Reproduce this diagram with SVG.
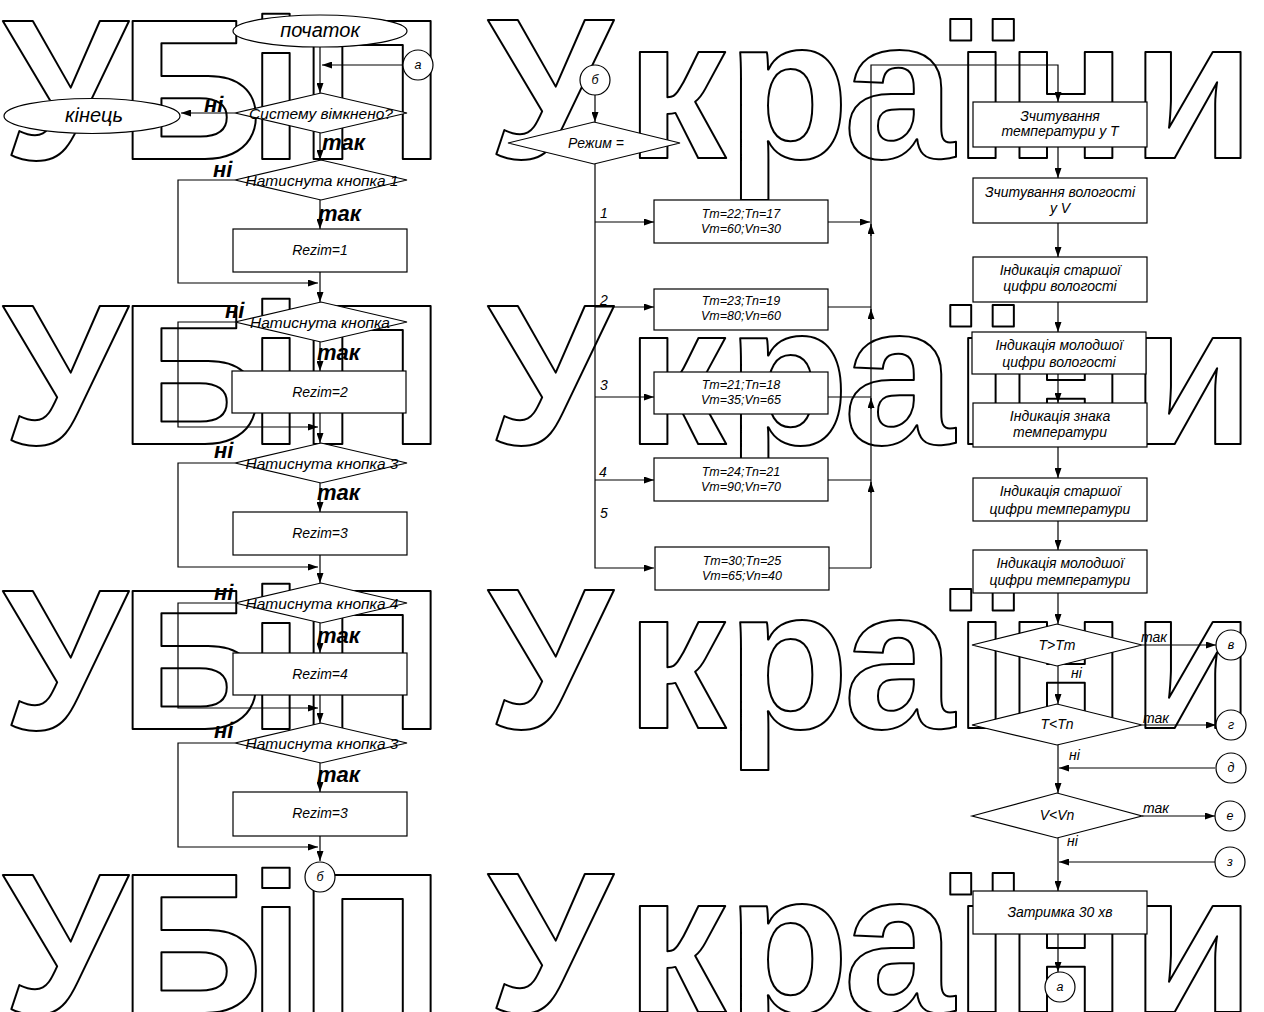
<svg xmlns="http://www.w3.org/2000/svg" width="1264" height="1012" viewBox="0 0 1264 1012">
<style>
.wm{font-family:"Liberation Sans",Arial,sans-serif;font-weight:bold;font-size:200px;fill:none;stroke:#000;stroke-width:2;stroke-linejoin:round;text-anchor:middle}
.nd{fill:#fff;stroke:#000;stroke-width:1.2}
.ln{fill:none;stroke:#000;stroke-width:1.2}
.ar{marker-end:url(#ah)}
.t{font-family:"Liberation Sans",Arial,sans-serif;font-style:italic;font-size:14px;text-anchor:middle;fill:#000}
.ts{font-family:"Liberation Sans",Arial,sans-serif;font-style:italic;font-size:12.5px;text-anchor:middle;fill:#000}
.td{font-family:"Liberation Sans",Arial,sans-serif;font-style:italic;font-size:15.5px;text-anchor:middle;fill:#000}
.tb{font-family:"Liberation Sans",Arial,sans-serif;font-style:italic;font-size:20px;text-anchor:middle;fill:#000}
.lb{font-family:"Liberation Sans",Arial,sans-serif;font-style:italic;font-weight:bold;font-size:22px;fill:#000}
.lr{font-family:"Liberation Sans",Arial,sans-serif;font-style:italic;font-size:14px;fill:#000}
</style>
<defs>
<marker id="ah" viewBox="0 0 10 7" refX="10" refY="3.5" markerWidth="10" markerHeight="7" markerUnits="userSpaceOnUse" orient="auto"><path d="M0,0 L10,3.5 L0,7 z" fill="#000"/></marker>
</defs>
<rect width="1264" height="1012" fill="#fff"/>

<g id="watermark">
<text class="wm" x="65 191 276 372" y="159">УБіП</text>
<text class="wm" x="550 676 788 899 982 1066 1193" y="158">України</text>
<text class="wm" x="65 191 276 372" y="444">УБіП</text>
<text class="wm" x="550 676 788 899 982 1066 1193" y="444">України</text>
<text class="wm" x="65 191 276 372" y="729">УБіП</text>
<text class="wm" x="550 676 788 899 982 1066 1193" y="728">України</text>
<text class="wm" x="65 191 276 372" y="1013">УБіП</text>
<text class="wm" x="550 676 788 899 982 1066 1193" y="1012">України</text>
</g>

<g id="connectors">
<path class="ln ar" d="M320,47 V93"/>
<path class="ln ar" d="M403,65 H322"/>
<path class="ln ar" d="M235,113 H181"/>
<path class="ln ar" d="M320,133 V160"/>
<path class="ln ar" d="M320,200 V229"/>
<path class="ln ar" d="M320,272 V302"/>
<path class="ln ar" d="M235,180 H178 V283 H318"/>
<path class="ln ar" d="M320,342 V371"/>
<path class="ln ar" d="M320,413 V443"/>
<path class="ln ar" d="M235,322 H178 V427 H318"/>
<path class="ln ar" d="M320,483 V512"/>
<path class="ln ar" d="M320,555 V583"/>
<path class="ln ar" d="M235,463 H178 V567 H318"/>
<path class="ln ar" d="M320,623 V653"/>
<path class="ln ar" d="M320,695 V723"/>
<path class="ln ar" d="M235,603 H178 V708 H318"/>
<path class="ln ar" d="M320,763 V792"/>
<path class="ln ar" d="M320,836 V861"/>
<path class="ln ar" d="M235,743 H178 V847 H318"/>

<path class="ln ar" d="M595,95 V122"/>
<path class="ln ar" d="M595,164 V568 H654"/>
<path class="ln ar" d="M595,222 H654"/>
<path class="ln ar" d="M595,307 H654"/>
<path class="ln ar" d="M595,397 H654"/>
<path class="ln ar" d="M595,480 H654"/>
<path class="ln ar" d="M828,222 H870"/>
<path class="ln" d="M828,307 H871"/>
<path class="ln" d="M828,397 H871"/>
<path class="ln" d="M828,480 H871"/>
<path class="ln" d="M829,568 H871"/>
<path class="ln ar" d="M871,568 V65 H1058 V102"/>
<path class="ln ar" d="M871,236 V224"/>
<path class="ln ar" d="M871,320 V309"/>
<path class="ln ar" d="M871,409 V398"/>
<path class="ln ar" d="M871,493 V482"/>

<path class="ln ar" d="M1058,147 V178"/>
<path class="ln ar" d="M1058,223 V257"/>
<path class="ln ar" d="M1058,302 V332"/>
<path class="ln ar" d="M1058,374 V403"/>
<path class="ln ar" d="M1058,447 V478"/>
<path class="ln ar" d="M1058,521 V550"/>
<path class="ln ar" d="M1058,593 V624"/>
<path class="ln ar" d="M1058,666 V704"/>
<path class="ln ar" d="M1058,745 V793"/>
<path class="ln ar" d="M1058,838 V891"/>
<path class="ln ar" d="M1058,934 V972"/>
<path class="ln ar" d="M1142,645 H1216"/>
<path class="ln ar" d="M1142,725 H1216"/>
<path class="ln ar" d="M1142,816 H1215"/>
<path class="ln ar" d="M1215,768 H1059"/>
<path class="ln ar" d="M1215,862 H1059"/>
</g>

<g id="labels">
<text class="lb" x="204" y="112">ні</text>
<text class="lb" x="322" y="150">так</text>
<text class="lb" x="213" y="177">ні</text>
<text class="lb" x="318" y="221">так</text>
<text class="lb" x="225" y="318">ні</text>
<text class="lb" x="317" y="360">так</text>
<text class="lb" x="214" y="458">ні</text>
<text class="lb" x="317" y="500">так</text>
<text class="lb" x="214" y="600">ні</text>
<text class="lb" x="317" y="643">так</text>
<text class="lb" x="214" y="738">ні</text>
<text class="lb" x="317" y="782">так</text>
<text class="lr" x="600" y="218">1</text>
<text class="lr" x="600" y="305">2</text>
<text class="lr" x="600" y="390">3</text>
<text class="lr" x="599" y="477">4</text>
<text class="lr" x="600" y="518">5</text>
<text class="lr" x="1141" y="642">так</text>
<text class="lr" x="1071" y="678">ні</text>
<text class="lr" x="1143" y="723">так</text>
<text class="lr" x="1069" y="760">ні</text>
<text class="lr" x="1143" y="813">так</text>
<text class="lr" x="1067" y="846">ні</text>
</g>

<g id="n-start"><ellipse class="nd" cx="320" cy="31" rx="87" ry="16"/><text class="tb" x="320" y="37">початок</text></g>
<g id="n-a1"><circle class="nd" cx="418" cy="65" r="15"/><text class="ts" x="418" y="69">а</text></g>
<g id="n-end"><ellipse class="nd" cx="92" cy="116" rx="88" ry="17.5"/><text class="tb" x="94" y="122">кінець</text></g>
<g id="n-d0"><polygon class="nd" points="235,113 321,93 407,113 321,133"/><text class="td" x="321" y="119">Систему вімкнено?</text></g>
<g id="n-d1"><polygon class="nd" points="235,180 321,160 407,180 321,200"/><text class="td" x="322" y="186">Натиснута кнопка 1</text></g>
<g id="n-r1"><rect class="nd" x="233" y="229" width="174" height="43"/><text class="t" x="320" y="255">Rezim=1</text></g>
<g id="n-d2"><polygon class="nd" points="235,322 321,302 407,322 321,342"/><text class="td" x="320" y="328">Натиснута кнопка</text></g>
<g id="n-r2"><rect class="nd" x="232" y="371" width="174" height="42"/><text class="t" x="320" y="397">Rezim=2</text></g>
<g id="n-d3"><polygon class="nd" points="235,463 321,443 407,463 321,483"/><text class="td" x="322" y="469">Натиснута кнопка 3</text></g>
<g id="n-r3"><rect class="nd" x="233" y="512" width="174" height="43"/><text class="t" x="320" y="538">Rezim=3</text></g>
<g id="n-d4"><polygon class="nd" points="235,603 321,583 407,603 321,623"/><text class="td" x="322" y="609">Натиснута кнопка 4</text></g>
<g id="n-r4"><rect class="nd" x="233" y="653" width="174" height="42"/><text class="t" x="320" y="679">Rezim=4</text></g>
<g id="n-d5"><polygon class="nd" points="235,743 321,723 407,743 321,763"/><text class="td" x="322" y="749">Натиснута кнопка 3</text></g>
<g id="n-r5"><rect class="nd" x="233" y="792" width="174" height="44"/><text class="t" x="320" y="818">Rezim=3</text></g>
<g id="n-b1"><circle class="nd" cx="320" cy="877" r="15"/><text class="ts" x="320" y="881">б</text></g>

<g id="n-b2"><circle class="nd" cx="595" cy="80" r="15"/><text class="ts" x="595" y="84">б</text></g>
<g id="n-mode"><polygon class="nd" points="508,143 594,122 680,143 594,164"/><text class="t" x="596" y="148">Режим =</text></g>
<g id="n-m1"><rect class="nd" x="654" y="200" width="174" height="43"/><text class="ts" x="741" y="218">Tm=22;Tn=17</text><text class="ts" x="741" y="233">Vm=60;Vn=30</text></g>
<g id="n-m2"><rect class="nd" x="654" y="289" width="174" height="41"/><text class="ts" x="741" y="305">Tm=23;Tn=19</text><text class="ts" x="741" y="320">Vm=80;Vn=60</text></g>
<g id="n-m3"><rect class="nd" x="654" y="372" width="174" height="42"/><text class="ts" x="741" y="389">Tm=21;Tn=18</text><text class="ts" x="741" y="404">Vm=35;Vn=65</text></g>
<g id="n-m4"><rect class="nd" x="654" y="458" width="174" height="43"/><text class="ts" x="741" y="476">Tm=24;Tn=21</text><text class="ts" x="741" y="491">Vm=90;Vn=70</text></g>
<g id="n-m5"><rect class="nd" x="655" y="547" width="174" height="43"/><text class="ts" x="742" y="565">Tm=30;Tn=25</text><text class="ts" x="742" y="580">Vm=65;Vn=40</text></g>

<g id="n-s1"><rect class="nd" x="973" y="102" width="174" height="45"/><text class="t" x="1060" y="121">Зчитування</text><text class="t" x="1060" y="136">температури у Т</text></g>
<g id="n-s2"><rect class="nd" x="973" y="178" width="174" height="45"/><text class="t" x="1060" y="197">Зчитування вологості</text><text class="t" x="1060" y="213">у V</text></g>
<g id="n-s3"><rect class="nd" x="973" y="257" width="174" height="45"/><text class="t" x="1060" y="275">Індикація старшої</text><text class="t" x="1060" y="291">цифри вологості</text></g>
<g id="n-s4"><rect class="nd" x="972" y="332" width="174" height="42"/><text class="t" x="1059" y="350">Індикація молодшої</text><text class="t" x="1059" y="367">цифри вологості</text></g>
<g id="n-s5"><rect class="nd" x="973" y="403" width="174" height="44"/><text class="t" x="1060" y="421">Індикація знака</text><text class="t" x="1060" y="437">температури</text></g>
<g id="n-s6"><rect class="nd" x="973" y="478" width="174" height="43"/><text class="t" x="1060" y="496">Індикація старшої</text><text class="t" x="1060" y="514">цифри температури</text></g>
<g id="n-s7"><rect class="nd" x="973" y="550" width="174" height="43"/><text class="t" x="1060" y="568">Індикація молодшої</text><text class="t" x="1060" y="585">цифри температури</text></g>
<g id="n-c1"><polygon class="nd" points="972,645 1057,624 1142,645 1057,666"/><text class="t" x="1057" y="650">T&gt;Tm</text></g>
<g id="n-c2"><polygon class="nd" points="972,725 1057,704 1142,725 1057,745"/><text class="t" x="1057" y="729">T&lt;Tn</text></g>
<g id="n-c3"><polygon class="nd" points="972,816 1057,793 1142,816 1057,838"/><text class="t" x="1057" y="820">V&lt;Vn</text></g>
<g id="n-v"><circle class="nd" cx="1231" cy="645" r="15"/><text class="ts" x="1231" y="649">в</text></g>
<g id="n-g"><circle class="nd" cx="1231" cy="725" r="15"/><text class="ts" x="1231" y="729">г</text></g>
<g id="n-d"><circle class="nd" cx="1231" cy="768" r="15"/><text class="ts" x="1231" y="772">д</text></g>
<g id="n-e"><circle class="nd" cx="1230" cy="816" r="15"/><text class="ts" x="1230" y="820">е</text></g>
<g id="n-z"><circle class="nd" cx="1230" cy="862" r="15"/><text class="ts" x="1230" y="866">з</text></g>
<g id="n-delay"><rect class="nd" x="973" y="891" width="174" height="43"/><text class="t" x="1060" y="917">Затримка 30 хв</text></g>
<g id="n-a2"><circle class="nd" cx="1060" cy="987" r="15"/><text class="ts" x="1060" y="991">а</text></g>
</svg>
